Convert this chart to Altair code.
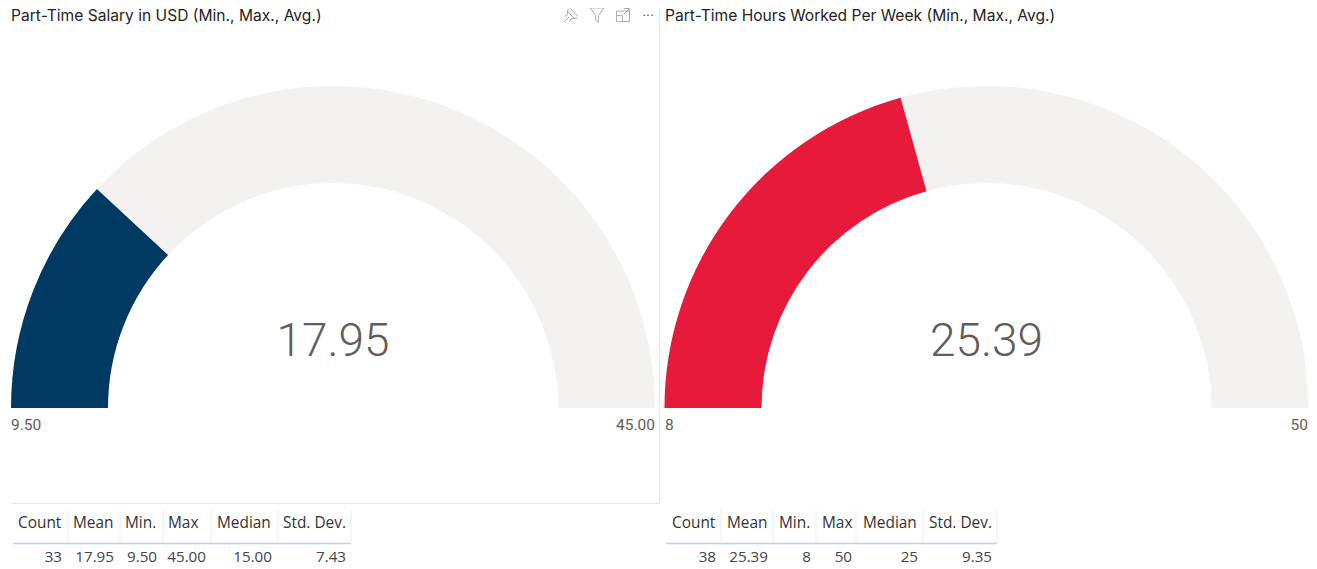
import math
import altair as alt
import pandas as pd

# ---- data ----
gauge_titles = ["Part-Time Salary in USD (Min., Max., Avg.)", "Part-Time Hours Worked Per Week (Min., Max., Avg.)"]
gauge_min = [9.50, 8]
gauge_max = [45.00, 50]
gauge_val = [17.95, 25.39]
gauge_val_labels = ["17.95", "25.39"]
gauge_min_labels = ["9.50", "8"]
gauge_max_labels = ["45.00", "50"]
gauge_colors = ["#003A63", "#E81A3B"]
table_headers = ["Count", "Mean", "Min.", "Max", "Median", "Std. Dev."]
table_left = ["33", "17.95", "9.50", "45.00", "15.00", "7.43"]
table_right = ["38", "25.39", "8", "50", "25", "9.35"]

# ---- layout (page pixels) ----
OX, OY = 8, 8
W, H = 1301, 560
CENTER_X = [333, 986.5]
CENTER_Y = 408
R_OUT = 322
R_IN = 225
TITLE_X = [11, 665]
MIN_X = [11, 665]
MAX_X = [655, 1308]
HDR_X = [[18, 73, 125, 168, 217, 283], [672, 727, 779, 822, 863, 929]]
VAL_X = [[62, 114, 157, 206, 272, 346], [716, 768, 811, 852, 918, 992]]
SEP_X = [[68, 120, 163, 211, 278, 351], [721, 773, 816, 856, 923, 997]]
LINE_X = [(13, 351), (666, 997)]
TABLE_ROWS = [table_left, table_right]

BODY = "Roboto"
TBL = "Open Sans"
layers = []


def px(x):
    return x - OX


def py(y):
    return y - OY


def text(s, x, y, align="left", size=14, color="#605E5C", font=BODY, weight=400):
    return (
        alt.Chart(pd.DataFrame({"t": [s]}))
        .mark_text(align=align, baseline="middle", font=font, fontSize=size, color=color,
                   fontWeight=weight, x=px(x), y=py(y))
        .encode(text="t:N")
    )


def rule(x1, y1, x2, y2, color, width=1):
    return (
        alt.Chart(pd.DataFrame({"a": [0]}))
        .mark_rule(color=color, strokeWidth=width)
        .encode(x=alt.value(px(x1)), x2=alt.value(px(x2)), y=alt.value(py(y1)), y2=alt.value(py(y2)))
    )


def icon(path, x, y, size=150, sw=1.0):
    return (
        alt.Chart(pd.DataFrame({"a": [0]}))
        .mark_point(shape=path, size=size, filled=False, stroke="#8A8886", strokeWidth=sw)
        .encode(x=alt.value(px(x)), y=alt.value(py(y)))
    )


# gauges
for i in range(2):
    theta_scale = alt.Scale(domain=[gauge_min[i], gauge_max[i]],
                            range=[1.5 * math.pi, 2.5 * math.pi])
    for lo, hi, col in [(gauge_min[i], gauge_max[i], "#F3F2F1"), (gauge_min[i], gauge_val[i], gauge_colors[i])]:
        layers.append(
            alt.Chart(pd.DataFrame({"lo": [lo], "hi": [hi]}))
            .mark_arc(radius=R_OUT, radius2=R_IN, color=col)
            .encode(
                theta=alt.Theta("lo:Q", scale=theta_scale, stack=None),
                theta2="hi:Q",
                x=alt.value(px(CENTER_X[i])),
                y=alt.value(py(CENTER_Y)),
            )
        )
    layers.append(text(gauge_titles[i], TITLE_X[i], 15.5, size=15.6, color="#252423", font="Inter"))
    layers.append(text(gauge_val_labels[i], CENTER_X[i], 342, align="center", size=46, weight=300))
    layers.append(text(gauge_min_labels[i], MIN_X[i], 425, size=15.5))
    layers.append(text(gauge_max_labels[i], MAX_X[i], 425, align="right", size=15.5))

    # table
    for j, h in enumerate(table_headers):
        layers.append(text(h, HDR_X[i][j], 522.5, size=15.4, color="#333333", font=TBL))
        layers.append(text(TABLE_ROWS[i][j], VAL_X[i][j], 557, align="right", size=15.2, font=TBL, color="#444444"))
        layers.append(rule(SEP_X[i][j], 510, SEP_X[i][j], 543, "#E4EFFA"))
    layers.append(rule(LINE_X[i][0], 543.5, LINE_X[i][1], 543.5, "#B3D4F4", 1.5))

# visual frame of left panel
layers.append(rule(659.5, 8, 659.5, 503, "#E6E6E6"))
layers.append(rule(11, 503.5, 659.5, 503.5, "#E6E6E6"))

# header icons
layers.append(icon("M-0.2,-1 L1,0.2 M-0.6,-0.6 L0.6,0.6 M-0.4,-0.9 L-0.55,0 L-0.9,0.2 M0.9,0.4 L0,0.55 L-0.2,0.9 M-0.3,0.3 L-1,1", 571, 15, 200))
layers.append(icon("M-1,-1 L1,-1 L0.2,0.1 L0.2,1 L-0.2,0.7 L-0.2,0.1 Z", 597, 15, 200))
layers.append(icon("M-1,-0.6 L-1,1 L1,1 L1,-0.6 Z M-1,0.1 L-0.1,0.1 L-0.1,1 M0.1,-1 L1,-1 L1,-0.2 M0.9,-0.9 L0.1,-0.1", 623, 15, 170))
layers.append(text("···", 648, 16, align="center", size=15, color="#605E5C"))

chart = (
    alt.layer(*layers)
    .resolve_scale(theta="independent")
    .properties(width=W, height=H, padding=0, autosize=alt.AutoSizeParams(type="none"))
    .configure_view(stroke=None)
)
chart.save("out.html", embed_options={"renderer": "svg", "actions": False})
